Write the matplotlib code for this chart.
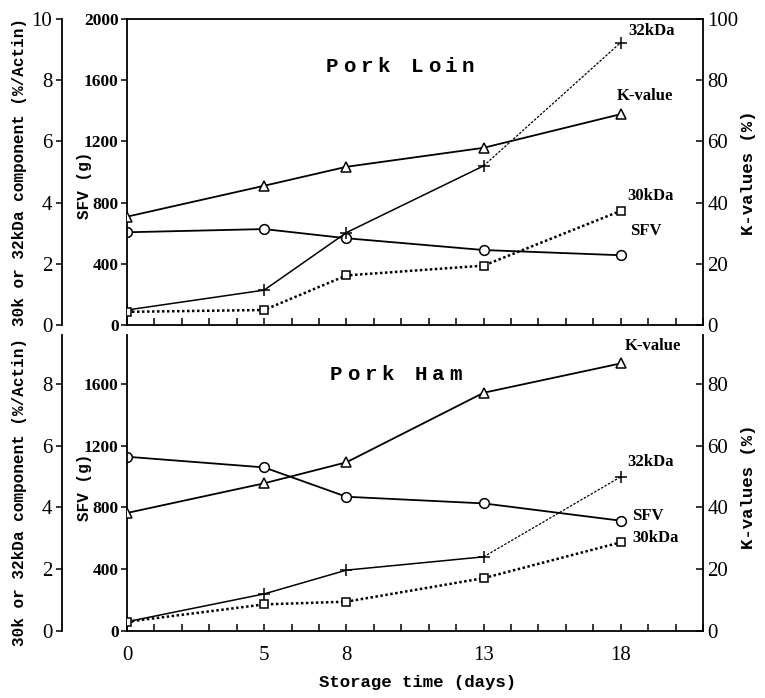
import numpy as np
import matplotlib.pyplot as plt
from matplotlib.ticker import MultipleLocator, FixedLocator

W, H = 765, 698

days = [0, 5, 8, 13, 18]

# Pork Loin
loin_k = [35.4, 45.5, 51.7, 57.9, 68.9]
loin_sfv = [606, 627, 567, 490, 456]
loin_32k = [0.49, 1.14, 3.02, 5.2, 9.23]
loin_30k = [0.43, 0.49, 1.62, 1.94, 3.73]

# Pork Ham
ham_k = [38.2, 47.8, 54.6, 77.1, 86.6]
ham_sfv = [1128, 1059, 869, 826, 714]
ham_32k = [0.30, 1.20, 1.97, 2.40, 4.99]
ham_30k = [0.30, 0.86, 0.95, 1.71, 2.87]

xtick_days = [0, 5, 8, 13, 18]

SERIF = 'Liberation Serif'
MONO = 'Liberation Mono'


def px(x, y):
    return x / W, 1 - y / H


def spaced(fig, x, y, s, step=17, size=15):
    for i, ch in enumerate(s):
        fig.text(*px(x + i * step, y), ch, ha='left', va='center',
                 family=MONO, weight='bold', fontsize=size)


def make_panel(fig, rect, out_max, sfv_max, k_max, out_ticks, sfv_ticks, k_ticks,
               top_spine, show_xlabels):
    ax = fig.add_axes(rect)
    ax.set_xlim(0, 21)
    ax.set_ylim(0, sfv_max)
    ax.spines['top'].set_visible(top_spine)
    ax.spines['right'].set_visible(False)
    for s in ax.spines.values():
        s.set_linewidth(1.3)
    ax.xaxis.set_major_locator(FixedLocator(xtick_days))
    ax.xaxis.set_minor_locator(MultipleLocator(1))
    ax.tick_params(axis='x', which='both', direction='in', length=5, width=1.1,
                   top=False, labelbottom=show_xlabels, pad=11)
    ax.set_yticks(sfv_ticks)
    ax.tick_params(axis='y', direction='out', length=4, width=1.1, pad=2)
    for lab in ax.get_yticklabels():
        lab.set_family(SERIF)
        lab.set_weight('bold')
        lab.set_fontsize(12.5)
    for lab in ax.get_xticklabels():
        lab.set_family(SERIF)
        lab.set_fontsize(15)

    ax_k = ax.twinx()
    ax_k.set_ylim(0, k_max)
    ax_k.set_yticks(k_ticks)
    for side in ['top', 'bottom', 'left']:
        ax_k.spines[side].set_visible(False)
    ax_k.spines['right'].set_linewidth(1.3)
    ax_k.tick_params(axis='y', direction='in', length=5, width=1.1, pad=3)
    for lab in ax_k.get_yticklabels():
        lab.set_family(SERIF)
        lab.set_fontsize(15)

    ax_o = ax.twinx()
    ax_o.set_ylim(0, out_max)
    ax_o.set_yticks(out_ticks)
    for side in ['top', 'bottom', 'right']:
        ax_o.spines[side].set_visible(False)
    ax_o.spines['left'].set_visible(True)
    ax_o.spines['left'].set_position(('axes', -65 / 576))
    ax_o.spines['left'].set_linewidth(1.3)
    ax_o.yaxis.set_ticks_position('left')
    ax_o.tick_params(axis='y', direction='out', length=4, width=1.1, pad=3)
    for lab in ax_o.get_yticklabels():
        lab.set_family(SERIF)
        lab.set_fontsize(15)
    return ax, ax_k, ax_o


def draw_series(ax, ax_k, ax_o, k, sfv, k32, k30):
    ax_k.plot(days, k, '-', color='black', lw=1.3, marker='^', ms=7,
              mfc='white', mec='black', mew=1.1)
    ax.plot(days, sfv, '-', color='black', lw=1.3, marker='o', ms=7,
            mfc='white', mec='black', mew=1.1)
    ax_o.plot(days[:-1], k32[:-1], '-', color='black', lw=1.1)
    ax_o.plot(days[-2:], k32[-2:], color='black', lw=0.9, linestyle=(0, (2, 1.2)))
    ax_o.plot(days, k32, 'none', marker='+', ms=9, mec='black', mew=1.1)
    ax_o.plot(days, k30, color='black', lw=1.8, linestyle=(0, (1, 1)),
              marker='s', ms=6, mfc='white', mec='black', mew=1.1)


fig = plt.figure(figsize=(W / 100, H / 100), dpi=100)
fig.patch.set_facecolor('white')

top_rect = [127 / W, 1 - 325 / H, 576 / W, 306 / H]
bot_rect = [127 / W, 1 - 631 / H, 576 / W, 296 / H]

a1, k1, o1 = make_panel(fig, top_rect, 10, 2000, 100,
                        [0, 2, 4, 6, 8, 10], [0, 400, 800, 1200, 1600, 2000],
                        [0, 20, 40, 60, 80, 100], True, False)
draw_series(a1, k1, o1, loin_k, loin_sfv, loin_32k, loin_30k)

a2, k2, o2 = make_panel(fig, bot_rect, 9.58, 1916, 95.8,
                        [0, 2, 4, 6, 8], [0, 400, 800, 1200, 1600],
                        [0, 20, 40, 60, 80], False, True)
draw_series(a2, k2, o2, ham_k, ham_sfv, ham_32k, ham_30k)

# panel titles
spaced(fig, 326, 67, 'Pork Loin')
spaced(fig, 330, 374, 'Pork Ham')

# series labels
ann = dict(ha='left', va='center', family=SERIF, weight='bold', fontsize=12)
fig.text(*px(628, 31), '32kDa', **ann)
fig.text(*px(617, 96), 'K-value', **ann)
fig.text(*px(627, 196), '30kDa', **ann)
fig.text(*px(630, 231), 'SFV', **ann)
fig.text(*px(625, 346), 'K-value', **ann)
fig.text(*px(627, 462), '32kDa', **ann)
fig.text(*px(632, 516), 'SFV', **ann)
fig.text(*px(632, 538), '30kDa', **ann)

# axis labels
lab = dict(ha='center', va='center', family=MONO, weight='bold')
fig.text(*px(20, 172), '30k or 32kDa component (%/Actin)', rotation=90, fontsize=11.5, **lab)
fig.text(*px(20, 492), '30k or 32kDa component (%/Actin)', rotation=90, fontsize=11.5, **lab)
fig.text(*px(85, 185), 'SFV (g)', rotation=90, fontsize=11.5, **lab)
fig.text(*px(85, 487), 'SFV (g)', rotation=90, fontsize=11.5, **lab)
fig.text(*px(748, 173), 'K-values (%)', rotation=90, fontsize=12.5, **lab)
fig.text(*px(748, 487), 'K-values (%)', rotation=90, fontsize=12.5, **lab)
fig.text(*px(418, 682), 'Storage time (days)', fontsize=12.5, **lab)

fig.savefig('out.png', dpi=100)
